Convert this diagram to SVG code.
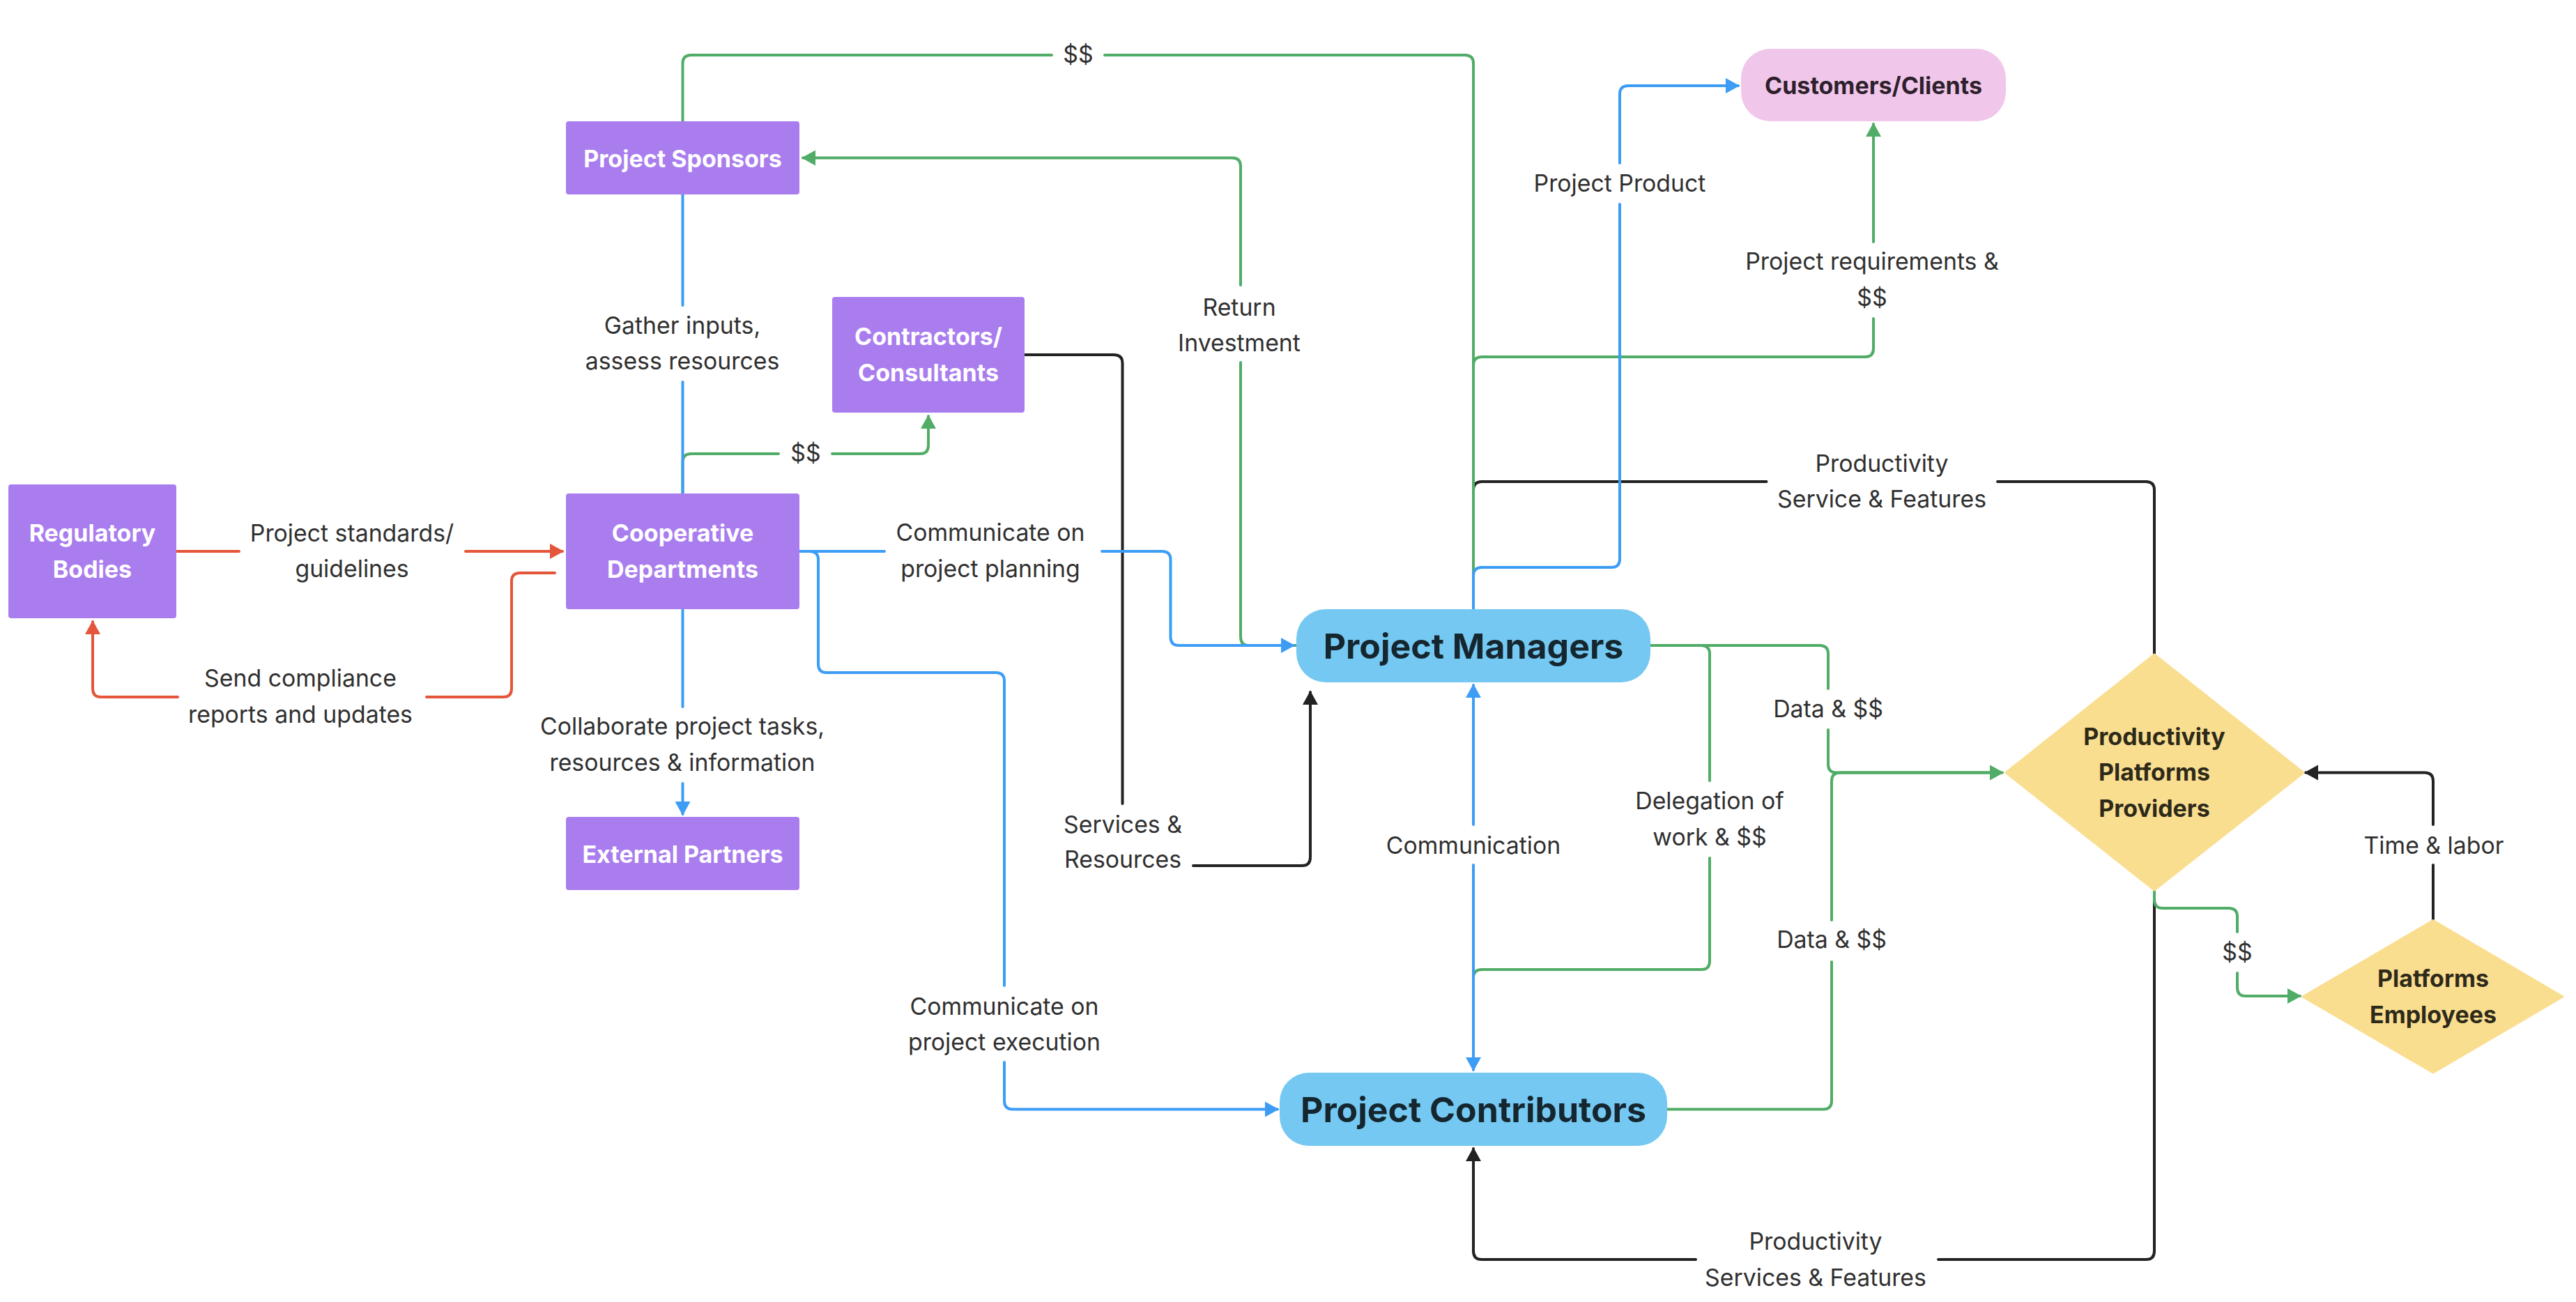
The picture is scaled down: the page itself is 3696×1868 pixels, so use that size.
<svg xmlns="http://www.w3.org/2000/svg" width="3696" height="1868" viewBox="0 0 3696 1868">
<style>
.lbl{font-family:Inter,'Liberation Sans',sans-serif;font-size:33.8px;fill:#303030;text-anchor:middle}
.nt{font-family:Inter,'Liberation Sans',sans-serif;font-size:34px;font-weight:700;text-anchor:middle}
.big{font-family:Inter,'Liberation Sans',sans-serif;font-size:50px;font-weight:700;text-anchor:middle;fill:#15262f}
.purple{fill:#aa7def}
.w{fill:#fff}
.c{fill:none;stroke-width:4;stroke-linecap:round;stroke-linejoin:round}
.g{stroke:#50ac66}.b{stroke:#3d9df5}.r{stroke:#e4553a}.k{stroke:#222}
</style>
<defs>
<marker id="ag" markerUnits="userSpaceOnUse" markerWidth="22" markerHeight="24" refX="19" refY="12" orient="auto-start-reverse"><path d="M1,1 L21,12 L1,23 z" fill="#50ac66"/></marker>
<marker id="ab" markerUnits="userSpaceOnUse" markerWidth="22" markerHeight="24" refX="19" refY="12" orient="auto-start-reverse"><path d="M1,1 L21,12 L1,23 z" fill="#3d9df5"/></marker>
<marker id="ar" markerUnits="userSpaceOnUse" markerWidth="22" markerHeight="24" refX="19" refY="12" orient="auto-start-reverse"><path d="M1,1 L21,12 L1,23 z" fill="#e4553a"/></marker>
<marker id="ak" markerUnits="userSpaceOnUse" markerWidth="22" markerHeight="24" refX="19" refY="12" orient="auto-start-reverse"><path d="M1,1 L21,12 L1,23 z" fill="#222"/></marker>
</defs>
<rect width="3696" height="1868" fill="#fff"/>
<g id="connectors">
<path class="c k" d="M3091 939 V703 Q3091 691 3079 691 H2866 M2534.5 691 H2126 Q2114 691 2114 703 V712"/>
<path class="c k" d="M3091 1277 V1795 Q3091 1807 3079 1807 H2781 M2433 1807 H2126 Q2114 1807 2114 1795 V1648" marker-end="url(#ak)"/>
<path class="c k" d="M1470 509 H1598 Q1610.5 509 1610.5 521 V1153 M1712 1242 H1868 Q1880 1242 1880 1230 V993" marker-end="url(#ak)"/>
<path class="c k" d="M3491 1320 V1241 M3491 1183 V1120.5 Q3491 1108.5 3479 1108.5 H3308" marker-end="url(#ak)"/>
<path class="c g" d="M979.5 174 V91 Q979.5 79 991.5 79 H1509 M1585 79 H2102 Q2114 79 2114 91 V874"/>
<path class="c g" d="M2114 874 V524 Q2114 512 2126 512 H2676 Q2688 512 2688 500 V457 M2688 347 V178" marker-end="url(#ag)"/>
<path class="c g" d="M1860 926 H1792 Q1780 926 1780 914 V520 M1780 409 V238.5 Q1780 226.5 1768 226.5 H1152" marker-end="url(#ag)"/>
<path class="c g" d="M979.5 708 V663 Q979.5 651 991.5 651 H1117 M1194 651 H1320 Q1332 651 1332 639 V597" marker-end="url(#ag)"/>
<path class="c g" d="M2368 926 H2441 Q2453 926 2453 938 V1120 M2453 1231 V1379 Q2453 1391 2441 1391 H2126 Q2114 1391 2114 1403 V1530"/>
<path class="c g" d="M2368 926 H2611 Q2623 926 2623 938 V988 M2623 1047 V1096.5 Q2623 1108.5 2635 1108.5 H2873" marker-end="url(#ag)"/>
<path class="c g" d="M2392 1591.5 H2616 Q2628 1591.5 2628 1579.5 V1380 M2628 1320 V1120.5 Q2628 1108.5 2640 1108.5 H2860"/>
<path class="c g" d="M3091 1277 V1291 Q3091 1303 3103 1303 H3198 Q3210 1303 3210 1315 V1337 M3210 1396 V1417 Q3210 1429 3222 1429 H3300" marker-end="url(#ag)"/>
<path class="c b" d="M2114 874 V826 Q2114 814 2126 814 H2312 Q2324 814 2324 802 V293 M2324 234 V135 Q2324 123 2336 123 H2494" marker-end="url(#ab)"/>
<path class="c b" d="M979.5 279 V438 M979.5 548 V708"/>
<path class="c b" d="M979.5 874 V1014 M979.5 1124 V1168" marker-end="url(#ab)"/>
<path class="c b" d="M1148 791 H1269 M1581 791 H1667.5 Q1679.5 791 1679.5 803 V914 Q1679.5 926 1691.5 926 H1856" marker-end="url(#ab)"/>
<path class="c b" d="M1148 791 H1162 Q1174 791 1174 803 V953 Q1174 965 1186 965 H1429 Q1441 965 1441 977 V1414 M1441 1524 V1579.5 Q1441 1591.5 1453 1591.5 H1833" marker-end="url(#ab)"/>
<path class="c b" d="M2114 983 V1183 M2114 1241 V1535" marker-start="url(#ab)" marker-end="url(#ab)"/>
<path class="c r" d="M253 791 H343 M668 791 H807" marker-end="url(#ar)"/>
<path class="c r" d="M796 822 H746 Q734 822 734 834 V988 Q734 1000 722 1000 H612 M255 1000 H145 Q133 1000 133 988 V892" marker-end="url(#ar)"/>
</g>
<g id="labels">
<text class="lbl" x="1547" y="90">$$</text>
<text class="lbl" x="979" y="479">Gather inputs,</text>
<text class="lbl" x="979" y="530">assess resources</text>
<text class="lbl" x="1778" y="453">Return</text>
<text class="lbl" x="1778" y="504">Investment</text>
<text class="lbl" x="2324" y="275">Project Product</text>
<text class="lbl" x="2686" y="387">Project requirements &amp;</text>
<text class="lbl" x="2686" y="439">$$</text>
<text class="lbl" x="1156" y="662">$$</text>
<text class="lbl" x="2700" y="677">Productivity</text>
<text class="lbl" x="2700" y="728">Service &amp; Features</text>
<text class="lbl" x="505" y="777">Project standards/</text>
<text class="lbl" x="505" y="828">guidelines</text>
<text class="lbl" x="1421" y="776">Communicate on</text>
<text class="lbl" x="1421" y="828">project planning</text>
<text class="lbl" x="431" y="985">Send compliance</text>
<text class="lbl" x="431" y="1037">reports and updates</text>
<text class="lbl" x="979" y="1054">Collaborate project tasks,</text>
<text class="lbl" x="979" y="1106">resources &amp; information</text>
<text class="lbl" x="2623" y="1029">Data &amp; $$</text>
<text class="lbl" x="2453" y="1161">Delegation of</text>
<text class="lbl" x="2453" y="1213">work &amp; $$</text>
<text class="lbl" x="3492" y="1225">Time &amp; labor</text>
<text class="lbl" x="1611" y="1195">Services &amp;</text>
<text class="lbl" x="1611" y="1245">Resources</text>
<text class="lbl" x="2114" y="1225">Communication</text>
<text class="lbl" x="3210" y="1378">$$</text>
<text class="lbl" x="2628" y="1360">Data &amp; $$</text>
<text class="lbl" x="1441" y="1456">Communicate on</text>
<text class="lbl" x="1441" y="1507">project execution</text>
<text class="lbl" x="2605" y="1793">Productivity</text>
<text class="lbl" x="2605" y="1845">Services &amp; Features</text>
</g>
<g id="node-sponsors"><rect class="purple" x="812" y="174" width="335" height="105" rx="4"/><text class="nt w" x="979.5" y="239.5">Project Sponsors</text></g>
<g id="node-contractors"><rect class="purple" x="1194" y="426" width="276" height="166" rx="4"/><text class="nt w" x="1332" y="495">Contractors/</text><text class="nt w" x="1332" y="547">Consultants</text></g>
<g id="node-regulatory"><rect class="purple" x="12" y="695" width="241" height="192" rx="4"/><text class="nt w" x="132.5" y="777">Regulatory</text><text class="nt w" x="132.5" y="829">Bodies</text></g>
<g id="node-cooperative"><rect class="purple" x="812" y="708" width="335" height="166" rx="4"/><text class="nt w" x="979.5" y="777">Cooperative</text><text class="nt w" x="979.5" y="829">Departments</text></g>
<g id="node-external"><rect class="purple" x="812" y="1172" width="335" height="105" rx="4"/><text class="nt w" x="979.5" y="1237.5">External Partners</text></g>
<g id="node-customers"><rect x="2498" y="70" width="380" height="104" rx="42" fill="#f0c7ea"/><text class="nt" x="2688" y="135" fill="#2e1f2c">Customers/Clients</text></g>
<g id="node-managers"><rect x="1860" y="874" width="508" height="105" rx="42" fill="#74c8f1"/><text class="big" x="2114" y="945">Project Managers</text></g>
<g id="node-contributors"><rect x="1836" y="1539" width="556" height="105" rx="42" fill="#74c8f1"/><text class="big" x="2114" y="1610">Project Contributors</text></g>
<g id="node-providers"><path d="M3091 939 L3305 1108.5 L3091 1277 L2878 1108.5 Z" fill="#fade90" stroke="#fade90" stroke-width="3" stroke-linejoin="round"/><text class="nt" x="3091" y="1069" fill="#2e2a1a">Productivity</text><text class="nt" x="3091" y="1120" fill="#2e2a1a">Platforms</text><text class="nt" x="3091" y="1172" fill="#2e2a1a">Providers</text></g>
<g id="node-employees"><path d="M3491 1320.5 L3677 1430 L3491 1539 L3304 1430 Z" fill="#fade90" stroke="#fade90" stroke-width="3" stroke-linejoin="round"/><text class="nt" x="3491" y="1416" fill="#2e2a1a">Platforms</text><text class="nt" x="3491" y="1468" fill="#2e2a1a">Employees</text></g>
</svg>
